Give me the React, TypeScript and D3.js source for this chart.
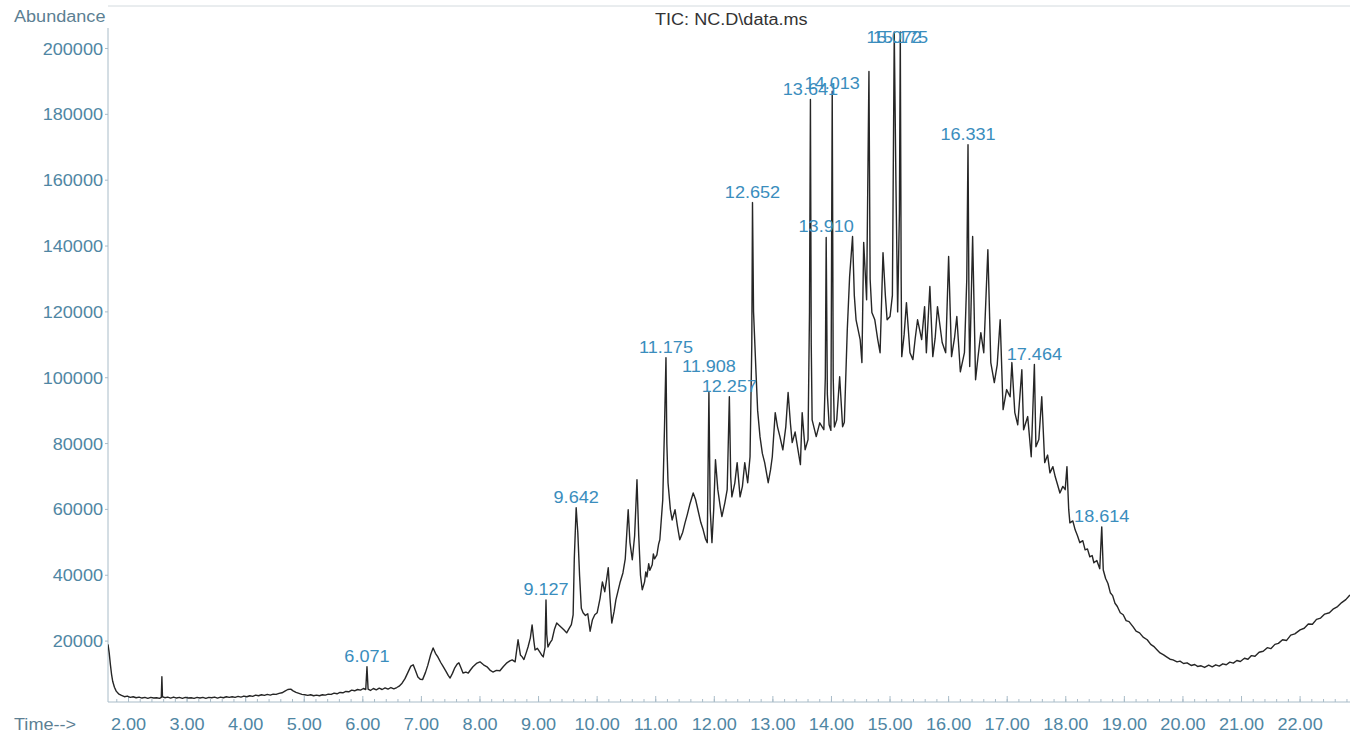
import React from "react";
import * as d3 from "d3";

// ---- data (retention time [min], abundance) ----
const trace: [number, number][] = [
  [1.65,19000],[1.67,16500],[1.69,13000],[1.71,10000],[1.73,7800],[1.76,6000],[1.79,4800],[1.83,4000],[1.88,3500],[1.93,3100],
  [1.98,3300],[2.03,2900],[2.08,3100],[2.13,2800],[2.18,3000],[2.23,2700],[2.28,2900],[2.33,2600],[2.38,2900],[2.43,2700],
  [2.48,2800],[2.53,2600],[2.56,2900],[2.57,9200],[2.58,3100],[2.62,2800],[2.67,3000],[2.72,2700],[2.77,3000],[2.82,2700],
  [2.87,2900],[2.92,2600],[2.97,2900],[3.02,2700],[3.07,2800],[3.12,2600],[3.17,2900],[3.22,2700],[3.27,2900],[3.32,2600],
  [3.37,2900],[3.42,2800],[3.47,3000],[3.52,2700],[3.57,3000],[3.62,2800],[3.67,3100],[3.72,2900],[3.77,3100],[3.82,2900],
  [3.87,3200],[3.92,3000],[3.97,3300],[4.02,3100],[4.07,3400],[4.12,3200],[4.17,3600],[4.22,3400],[4.27,3700],[4.32,3500],
  [4.37,3800],[4.42,3600],[4.47,3900],[4.52,3800],[4.57,4100],[4.62,4300],[4.67,4800],[4.72,5300],[4.77,5400],[4.81,4900],
  [4.86,4400],[4.91,4100],[4.96,3800],[5.01,3700],[5.06,3500],[5.11,3700],[5.16,3400],[5.21,3600],[5.26,3400],[5.31,3700],
  [5.36,3600],[5.41,3900],[5.46,3800],[5.51,4200],[5.56,4000],[5.61,4400],[5.66,4300],[5.71,4700],[5.76,4600],[5.81,5100],
  [5.86,4900],[5.91,5300],[5.96,5100],[6.01,5600],[6.05,5300],[6.071,12200],[6.09,5400],[6.13,5000],[6.18,5600],[6.23,5200],
  [6.28,5700],[6.33,5300],[6.38,5800],[6.43,5400],[6.48,5900],[6.53,5500],[6.58,5900],[6.62,6300],
  [6.67,7200],[6.72,8600],[6.77,10500],[6.82,12400],[6.86,12800],[6.90,11000],[6.94,9100],[6.98,8400],[7.02,8300],[7.07,10500],
  [7.11,12700],[7.16,16000],[7.20,17900],[7.24,16300],[7.28,15200],[7.33,13500],[7.37,12300],[7.42,10800],[7.46,9500],[7.49,8800],
  [7.53,10200],[7.57,11900],[7.61,13000],[7.64,13400],[7.68,11700],[7.71,10300],[7.76,10600],[7.80,10300],[7.84,11300],[7.88,12200],
  [7.94,13200],[8.00,13700],[8.06,12800],[8.12,12200],[8.17,11200],[8.22,10600],[8.28,11100],[8.34,11000],[8.40,12300],[8.46,13400],
  [8.51,14000],[8.55,14300],[8.60,13700],[8.65,20400],[8.69,15800],[8.72,15200],[8.75,14400],[8.79,16500],[8.82,18200],[8.86,21000],
  [8.89,24900],[8.92,20000],[8.94,17300],[8.98,17800],[9.02,16700],[9.06,15600],[9.08,15200],[9.11,18000],[9.127,32500],[9.14,22000],
  [9.16,18200],[9.20,19600],[9.23,20400],[9.27,23500],[9.31,25500],[9.35,24800],[9.40,24000],[9.44,23300],[9.48,22500],[9.52,23800],
  [9.56,25000],[9.59,28000],[9.61,45000],[9.642,60500],[9.67,53000],[9.70,40000],[9.73,30000],[9.76,28600],[9.80,27800],[9.84,28300],
  [9.88,23000],[9.92,26500],[9.96,28000],[10.00,28600],[10.05,33000],[10.09,38000],[10.13,35000],[10.16,38500],[10.19,42300],[10.22,33000],
  [10.25,25500],[10.29,29000],[10.32,32500],[10.36,35500],[10.39,37700],[10.44,40700],[10.48,45000],[10.53,59900],[10.56,50000],[10.60,44700],
  [10.64,52000],[10.68,69000],[10.71,52000],[10.74,40000],[10.77,35600],[10.81,38000],[10.83,41000],[10.85,39500],[10.88,43500],[10.90,41500],
  [10.94,43200],[10.96,46500],[10.98,45000],[11.02,46200],[11.05,49500],[11.07,50800],[11.12,62900],[11.15,85000],[11.175,106100],[11.19,80000],
  [11.21,68100],[11.25,60000],[11.28,56800],[11.33,59900],[11.37,55000],[11.41,50800],[11.46,53000],[11.50,55900],[11.54,58500],[11.58,61400],
  [11.64,65000],[11.68,63000],[11.72,59900],[11.77,56000],[11.81,53800],[11.85,51000],[11.88,49900],[11.908,95500],[11.93,60000],[11.96,49900],
  [11.99,60000],[12.02,75100],[12.06,66000],[12.10,61000],[12.13,57800],[12.18,62000],[12.22,66000],[12.257,94200],[12.28,70000],[12.30,63800],
  [12.35,68000],[12.39,74200],[12.44,63800],[12.48,67000],[12.52,74200],[12.57,68100],[12.61,76000],[12.64,110000],[12.652,153200],[12.67,120000],
  [12.71,102400],[12.74,90000],[12.78,82100],[12.82,77000],[12.86,74200],[12.92,68100],[12.96,72000],[12.99,76000],[13.04,89400],[13.08,85000],
  [13.12,82100],[13.17,78100],[13.22,85000],[13.26,95500],[13.30,86000],[13.33,80300],[13.38,83500],[13.42,79000],[13.47,73600],[13.50,89400],
  [13.55,78100],[13.60,81200],[13.625,120000],[13.641,184500],[13.655,110000],[13.67,87200],[13.74,82100],[13.80,86300],[13.87,84200],[13.895,100000],
  [13.910,142600],[13.93,95000],[13.96,85700],[13.99,84000],[14.013,187000],[14.03,100000],[14.05,85000],[14.09,87200],[14.14,100300],[14.19,85100],
  [14.22,86500],[14.27,114600],[14.31,130700],[14.36,142900],[14.39,125000],[14.42,117600],[14.49,111600],[14.52,104600],[14.55,141100],[14.60,123700],
  [14.64,193000],[14.66,130000],[14.69,119800],[14.74,117600],[14.79,111600],[14.83,107600],[14.88,138000],[14.92,125000],[14.95,117600],[15.00,118600],
  [15.04,125000],[15.072,205000],[15.10,160000],[15.13,120000],[15.16,150000],[15.175,205000],[15.19,130000],[15.20,106400],[15.24,113000],[15.28,122800],
  [15.34,107600],[15.39,105500],[15.43,112000],[15.47,117600],[15.54,111600],[15.59,121600],[15.62,107600],[15.68,127700],[15.73,106400],[15.77,112000],
  [15.81,121600],[15.89,110700],[15.95,107600],[16.00,136800],[16.05,106400],[16.10,112000],[16.14,118600],[16.20,101800],[16.27,107600],[16.31,130000],
  [16.331,170800],[16.35,115000],[16.36,103400],[16.41,142900],[16.46,99400],[16.50,106000],[16.55,113700],[16.60,107600],[16.67,138900],[16.72,104600],
  [16.78,98500],[16.83,104000],[16.88,117600],[16.93,90300],[16.99,96400],[17.05,94200],[17.08,104600],[17.13,89400],[17.18,85700],[17.25,102400],
  [17.28,84200],[17.35,88200],[17.41,76000],[17.464,104000],[17.49,79000],[17.54,81200],[17.59,94200],[17.64,74200],[17.69,76500],[17.73,71100],
  [17.78,73000],[17.82,69900],[17.86,67500],[17.90,65000],[17.95,67000],[17.99,66000],[18.02,73000],[18.05,60000],[18.07,55900],[18.12,56500],
  [18.16,53800],[18.20,52000],[18.24,49900],[18.29,50500],[18.33,47700],[18.37,48000],[18.41,45600],[18.45,46000],[18.48,43800],[18.53,44500],
  [18.58,42000],[18.614,54700],[18.64,41600],[18.68,39000],[18.72,37500],[18.76,34700],[18.80,33800],[18.84,31500],[18.88,30500],[18.93,28600],
  [18.98,28000],[19.03,26200],[19.08,25900],[19.15,24300],[19.20,23000],[19.26,22500],[19.32,21200],[19.39,20400],[19.45,19000],[19.50,18400],
  [19.56,17300],[19.61,16400],[19.67,15800],[19.72,15200],[19.78,14500],[19.83,14300],[19.90,13700],[19.95,13900],[20.01,13200],[20.07,13400],
  [20.14,12600],[20.20,12900],[20.25,12300],[20.31,12500],[20.37,12000],[20.44,12700],[20.50,12200],[20.56,12800],[20.62,12400],[20.68,13100],
  [20.74,12800],[20.80,13600],[20.86,13300],[20.92,14100],[20.98,13800],[21.05,14800],[21.11,14500],[21.17,15600],[21.23,15400],[21.30,16600],
  [21.37,16900],[21.44,18000],[21.50,17700],[21.57,19000],[21.63,19300],[21.70,20400],[21.77,20200],[21.84,21800],[21.91,22200],[22.00,23400],
  [22.07,23900],[22.14,25200],[22.21,25100],[22.28,26600],[22.35,27000],[22.42,28200],[22.50,28600],[22.57,29800],[22.64,30500],[22.71,31700],
  [22.78,32600],[22.85,34000],
];

const peakLabels: string[] = ["6.071","9.127","9.642","11.175","11.908","12.257","12.652","13.641","13.910","14.013","15.072","15.175","16.331","17.464","18.614"];
const peakTimes: number[] = [6.071,9.127,9.642,11.175,11.908,12.257,12.652,13.641,13.910,14.013,15.072,15.175,16.331,17.464,18.614];
// vertical nudges of individual labels (layout only)
const labelDy: number[] = [0,0,0,0,-16,0,0,0,0,3,16,16,0,0,0];

const xTickValues: number[] = d3.range(2, 23, 1);
const yTickValues: number[] = d3.range(20000, 200001, 20000);

const FONT = "'Liberation Sans', Arial, Helvetica, sans-serif";
const TICK_COLOR = "#4f86a3";
const LABEL_COLOR = "#3a8dbd";

function T(props: { x: number; y: number; anchor?: string; fill: string; size?: number; children: React.ReactNode }) {
  const { x, y, anchor = "middle", fill, size = 16, children } = props;
  return (
    <text transform={`translate(${x},${y}) scale(1.13,1)`} textAnchor={anchor as any} fill={fill} fontSize={size} fontFamily={FONT}>
      {children}
    </text>
  );
}

export default function App() {
  const W = 1350, H = 737;
  const left = 108, right = 1350, axisY = 702;
  const x = d3.scaleLinear().domain([2, 22]).range([128.5, 1300.1]);
  const y = d3.scaleLinear().domain([1500, 200000]).range([axisY, 48.5]);
  const line = d3.line<[number, number]>().x(d => x(d[0])).y(d => y(d[1]));
  const minor = d3.range(1.8, 22.9, 0.2);

  const peakHeight = (t: number) => {
    let best = trace[0];
    for (const p of trace) if (Math.abs(p[0] - t) < Math.abs(best[0] - t)) best = p;
    return best[1];
  };

  return (
    <div style={{ position: "absolute", left: 0, top: 0, width: W, height: H, background: "#fff" }}>
      <svg width={W} height={H} style={{ display: "block" }}>
        <defs>
          <clipPath id="plot">
            <rect x={left} y={0} width={right - left} height={axisY} />
          </clipPath>
        </defs>
        <rect x={0} y={0} width={W} height={H} fill="#ffffff" />
        {/* frame lines */}
        <line x1={left} x2={right} y1={6} y2={6} stroke="#d3dade" strokeWidth={1} />
        <line x1={left} x2={left} y1={28} y2={axisY} stroke="#a9bcc8" strokeWidth={1} />
        <line x1={left} x2={right} y1={axisY} y2={axisY} stroke="#a9bcc8" strokeWidth={1} />
        {/* y ticks */}
        {yTickValues.map(v => (
          <g key={"y" + v}>
            <line x1={left - 3} x2={left} y1={y(v)} y2={y(v)} stroke="#a9bcc8" />
            <T x={103} y={y(v) + 6} anchor="end" fill={TICK_COLOR}>{String(v)}</T>
          </g>
        ))}
        {/* x ticks */}
        {minor.map((t, i) => (
          <line key={"m" + i} x1={x(t)} x2={x(t)} y1={axisY} y2={axisY - 3} stroke="#a9bcc8" />
        ))}
        {xTickValues.map(t => (
          <g key={"x" + t}>
            <line x1={x(t)} x2={x(t)} y1={axisY} y2={axisY - 6} stroke="#a9bcc8" />
            <T x={x(t)} y={730} fill={TICK_COLOR}>{t.toFixed(2)}</T>
          </g>
        ))}
        <T x={14} y={730} anchor="start" fill="#5c7f93">Time--&gt;</T>
        <T x={14} y={22} anchor="start" fill="#5c7f93">Abundance</T>
        <T x={655} y={25} anchor="start" fill="#333333">TIC: NC.D\data.ms</T>
        {/* trace */}
        <path d={line(trace) || ""} fill="none" stroke="#262626" strokeWidth={1.4} strokeLinejoin="round" clipPath="url(#plot)" />
        {/* peak labels */}
        {peakLabels.map((lab, i) => (
          <T key={"p" + i} x={x(peakTimes[i])} y={y(peakHeight(peakTimes[i])) - 5 + labelDy[i]} fill={LABEL_COLOR}>{lab}</T>
        ))}
      </svg>
    </div>
  );
}
